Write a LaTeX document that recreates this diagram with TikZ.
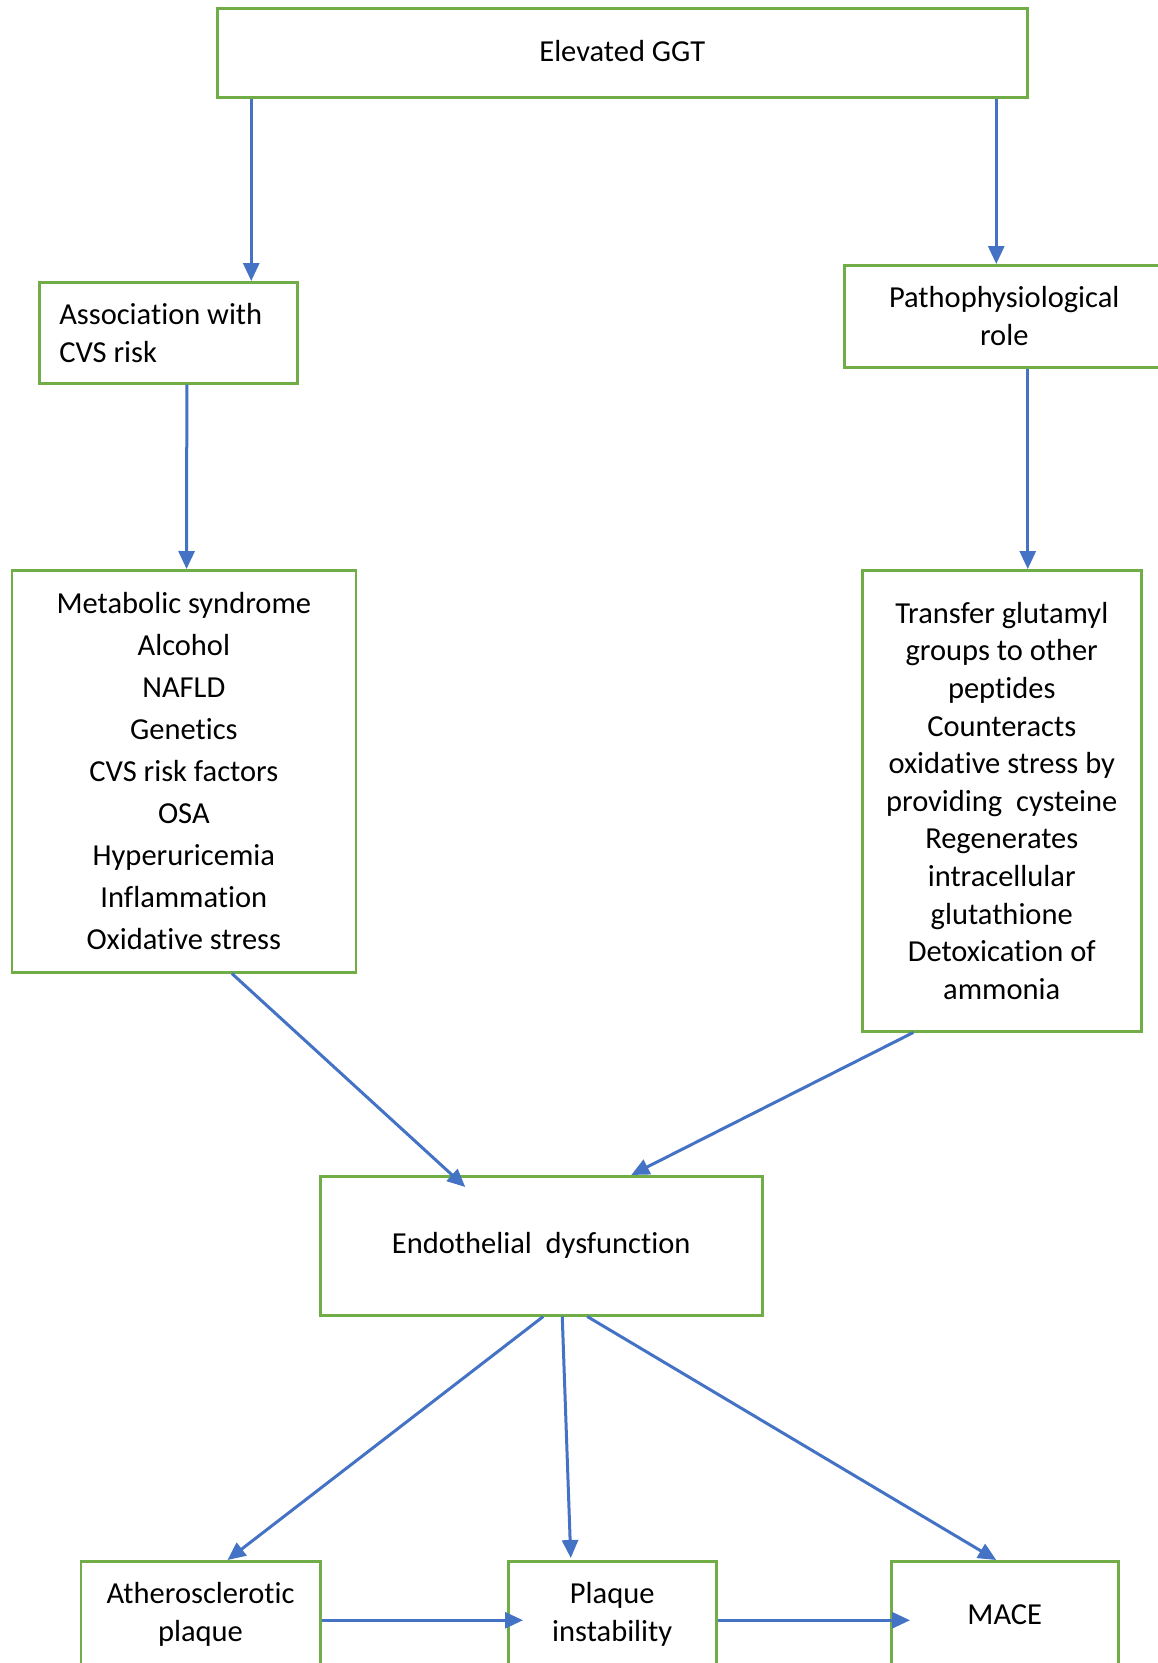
\documentclass[tikz,border=0pt]{standalone}
\usepackage{fontspec}
\setmainfont{Carlito}[Ligatures=NoCommon]
\usetikzlibrary{arrows.meta}
\definecolor{boxgreen}{RGB}{112,173,71}
\definecolor{arrblue}{RGB}{68,114,196}
\tikzset{
  box/.style={draw=boxgreen, line width=2.5pt, fill=white, anchor=north west, inner sep=0pt, align=center, font=\fontsize{30.5}{38}\selectfont},
  arr/.style={draw=arrblue, line width=3pt, -{Triangle[length=18pt,width=16pt]}, arrblue}
}
\begin{document}
\begin{tikzpicture}[x=1pt,y=-1pt]
\path[use as bounding box] (0,0) rectangle (1158,1663);
\begin{scope}
\clip (0,0) rectangle (1158,1663);
\node[box, minimum width=810pt, minimum height=89pt] (top) at (216,7) {\raisebox{3pt}{Elevated GGT}};
\node[box, minimum width=258pt, minimum height=101pt, text width=218pt, align=flush left] (assoc) at (38,281) {Association with\\CVS risk};
\node[box, minimum width=320pt, minimum height=102pt] (patho) at (843,264) {Pathophysiological\\role};
\node[box, minimum width=344pt, minimum height=402pt, font=\fontsize{30.5}{42}\selectfont] (metab) at (10.6,569) {Metabolic syndrome\\Alcohol\\NAFLD\\Genetics\\CVS risk factors\\OSA\\Hyperuricemia\\Inflammation\\Oxidative stress};
\node[box, minimum width=279pt, minimum height=461pt, font=\fontsize{30.5}{37.6}\selectfont] (transfer) at (861,569) {Transfer glutamyl\\groups to other\\peptides\\Counteracts\\oxidative stress by\\providing\ \ cysteine\\Regenerates\\intracellular\\glutathione\\Detoxication of\\ammonia};
\node[box, minimum width=442pt, minimum height=139pt] (endo) at (319,1175) {Endothelial\ \ dysfunction};
\node[box, minimum width=239.5pt, minimum height=106pt] (athero) at (79.5,1560) {Atherosclerotic\\plaque};
\node[box, minimum width=208pt, minimum height=106pt] (plaque) at (507,1560) {Plaque\\instability};
\node[box, minimum width=227pt, minimum height=106pt] (mace) at (890,1560) {MACE};
\end{scope}
\draw[arr] ([xshift=-371pt]top.south) -- ([xshift=83pt]assoc.north);
\draw[arr] ([xshift=374pt]top.south) -- ([xshift=-8pt]patho.north);
\draw[arr] ([xshift=18.6pt]assoc.south) -- ([xshift=2.7pt]metab.north);
\draw[arr] ([xshift=23.5pt]patho.south) -- ([xshift=26pt]transfer.north);
\draw[arr] ([xshift=48pt]metab.south) -- ([xshift=-76pt,yshift=-12pt]endo.north);
\draw[arr] ([xshift=-88.5pt]transfer.south) -- ([xshift=90pt]endo.north);
\draw[arr] ([xshift=2pt]endo.south) -- ([xshift=27pt]athero.north);
\draw[arr] ([xshift=21pt]endo.south) -- ([xshift=-41.5pt,yshift=2pt]plaque.north);
\draw[arr] ([xshift=46pt]endo.south) -- ([xshift=-8.5pt]mace.north);
\draw[arr] ([yshift=-6pt]athero.east) -- ([xshift=16pt,yshift=-6pt]plaque.west);
\draw[arr] ([yshift=-6pt]plaque.east) -- ([xshift=20pt,yshift=-6pt]mace.west);
\end{tikzpicture}
\end{document}
